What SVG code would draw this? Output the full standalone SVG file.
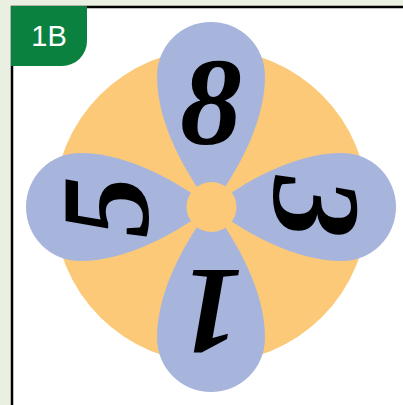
<svg xmlns="http://www.w3.org/2000/svg" width="403" height="405" viewBox="0 0 403 405">
<style>
.petal{fill:#a7b5dd}
.digit{font-family:"Liberation Serif","DejaVu Serif",serif;font-weight:bold;font-style:italic;font-size:124px;fill:#000;text-anchor:middle}
</style>
<defs>
<path id="petalShape" d="M0,0 C24,-32 54,-82 54,-131 A54,54 0 0 0 -54,-131 C-54,-82 -24,-32 0,0 Z"/>
</defs>
<rect x="0" y="0" width="403" height="405" fill="#e9f0e2"/>
<rect x="12" y="7" width="400" height="410" fill="#ffffff" stroke="#000" stroke-width="2.5"/>
<g id="tab">
<path d="M11,6 H87 V41 A25,25 0 0 1 62,66 H11 Z" fill="#0a813f"/>
<text x="49" y="46" font-family="Liberation Sans, Arial, sans-serif" font-size="29" fill="#ffffff" text-anchor="middle">1B</text>
</g>
<g id="disc">
<circle cx="211" cy="206" r="157" fill="#fcc978"/>
</g>
<g id="petal-top" transform="translate(211,207)">
<use href="#petalShape" class="petal"/>
<text class="digit" x="0" y="-63">8</text>
</g>
<g id="petal-right" transform="translate(211,207) rotate(90)">
<use href="#petalShape" class="petal"/>
<text class="digit" x="0" y="-63">3</text>
</g>
<g id="petal-bottom" transform="translate(211,207) rotate(180)">
<use href="#petalShape" class="petal"/>
<text class="digit" x="0" y="-63">1</text>
</g>
<g id="petal-left" transform="translate(211,207) rotate(-90)">
<use href="#petalShape" class="petal"/>
<text class="digit" x="0" y="-63">5</text>
</g>
<g id="center">
<circle cx="211.5" cy="207" r="25" fill="#fcc978"/>
</g>
<g id="connectors"/>
</svg>
